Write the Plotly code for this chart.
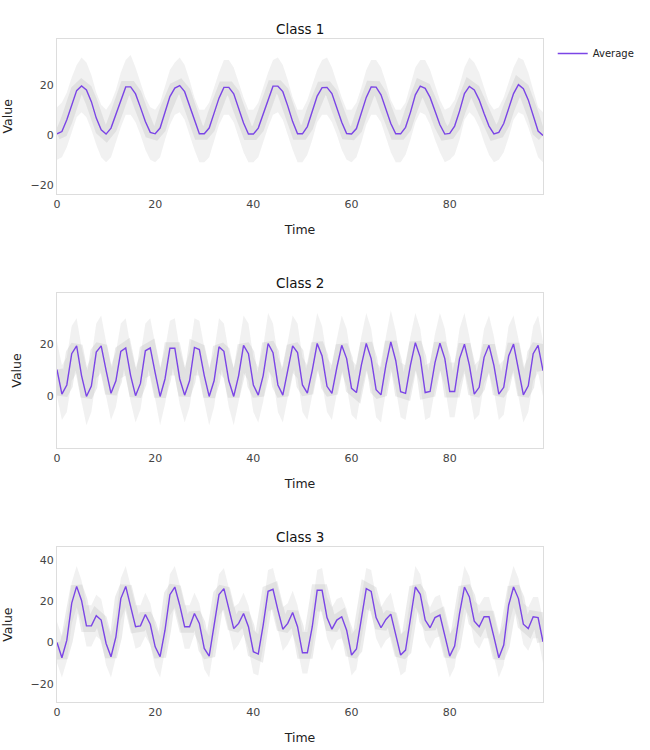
import plotly.graph_objects as go
from plotly.subplots import make_subplots

time = list(range(100))

# class 1: average and rough envelope of the individual samples
c1_avg = [0.4, 1.3, 6, 12, 17.7, 19.6, 18, 13.3, 6.7, 2,
          0.3, 2.7, 8, 14, 19.2, 19.2, 16.4, 11, 5.3, 1,
          0.4, 2.7, 9.3, 15.3, 18.7, 19.7, 17.3, 11.6, 5.3, 0.4,
          0.4, 2.7, 8.7, 14.7, 19, 19, 16.4, 10.7, 4.7, 0.3,
          0.3, 2.7, 8.4, 14.4, 19.5, 19.5, 17.3, 11.6, 5.3, 0.4,
          0.4, 3.3, 9.3, 15.5, 18.9, 19, 16.5, 11, 5, 0.5,
          0.3, 2.5, 8.5, 15, 19.2, 19.1, 16, 10.5, 4.5, 0.4,
          0.4, 3, 9, 16, 19.5, 18.6, 15, 9.5, 4, 0.3,
          0.6, 3.5, 9.5, 16.5, 19.4, 18, 14, 8.5, 3.5, 0.4,
          1, 4.5, 10.5, 16.5, 20.1, 18.5, 14, 8, 1.5, -0.3]
c1_hi = [11, 13, 17, 23, 28, 31, 29, 24, 17, 12,
         10, 13, 18, 25, 30, 32, 27, 21, 15, 11,
         10, 13, 20, 26, 29, 31, 28, 22, 15, 10,
         10, 13, 19, 25, 30, 30, 27, 21, 15, 10,
         10, 13, 19, 25, 30, 31, 28, 22, 15, 10,
         10, 14, 20, 26, 30, 31, 27, 21, 15, 10,
         10, 13, 19, 26, 30, 30, 27, 21, 14, 10,
         10, 13, 20, 27, 30, 30, 26, 20, 14, 10,
         11, 14, 20, 27, 31, 29, 25, 19, 13, 10,
         11, 15, 21, 27, 31, 30, 25, 18, 11, 9]
c1_lo = [-10, -9, -5, 1, 7, 9, 7, 2, -4, -9,
         -11, -9, -3, 3, 8, 8, 5, 0, -6, -10,
         -11, -9, -2, 4, 8, 9, 6, 0, -6, -11,
         -11, -9, -2, 4, 8, 8, 5, -1, -7, -11,
         -11, -9, -3, 3, 8, 9, 6, 0, -6, -11,
         -11, -8, -2, 5, 8, 8, 5, 0, -6, -10,
         -11, -9, -3, 4, 8, 8, 5, -1, -7, -11,
         -11, -8, -2, 5, 9, 8, 4, -2, -7, -11,
         -10, -8, -2, 6, 9, 7, 3, -3, -8, -11,
         -10, -7, -1, 6, 9, 8, 3, -3, -9, -11]

# class 2
c2_avg = [10.3, 0.9, 4.4, 16.4, 19.4, 8, 0, 4, 17, 19.4,
          10, 1.2, 6, 17.3, 18.6, 8, 0.3, 5, 17.5, 18.6,
          9, 0, 6.7, 18.5, 18.5, 6.7, 0.5, 6, 18.8, 18,
          8, 0, 6, 19, 17.3, 6, 0, 8, 19.6, 16.4,
          4.4, 0.5, 8, 20.3, 16.8, 4.4, 0.5, 10, 19.4, 16.8,
          4.4, 1.3, 10, 20.3, 15.5, 3.9, 1.2, 11, 19.6, 14.5,
          3.1, 1.5, 12, 20.3, 14.5, 2.6, 0.6, 12, 20.9, 13.8,
          1.8, 1.2, 12, 20.6, 15, 1.5, 1.9, 13, 20.4, 14.5,
          1.9, 1.9, 14.5, 20, 12, 0.9, 3.5, 15, 19.6, 11.9,
          0.9, 3.5, 15.5, 20.1, 10.6, 0.6, 4.1, 16.4, 19.6, 9.9]
c2_hi = [21, 12, 15, 27, 30, 19, 11, 15, 28, 31,
         21, 12, 17, 28, 30, 19, 11, 16, 28, 30,
         20, 11, 18, 29, 30, 18, 11, 17, 30, 29,
         19, 11, 17, 30, 28, 17, 11, 19, 31, 28,
         15, 11, 19, 32, 28, 15, 11, 21, 31, 28,
         15, 12, 21, 32, 27, 15, 12, 22, 31, 26,
         14, 12, 23, 32, 26, 13, 11, 23, 33, 25,
         13, 12, 23, 32, 26, 12, 13, 24, 32, 26,
         13, 13, 26, 32, 23, 12, 14, 26, 31, 23,
         12, 14, 27, 31, 22, 11, 15, 27, 31, 21]
c2_lo = [0, -9, -6, 6, 9, -2, -11, -6, 7, 9,
         0, -9, -4, 7, 8, -2, -10, -5, 7, 8,
         -1, -11, -3, 8, 8, -3, -10, -4, 8, 8,
         -2, -11, -4, 9, 7, -4, -11, -2, 9, 6,
         -6, -10, -2, 10, 7, -6, -10, 0, 9, 7,
         -6, -9, 0, 10, 5, -6, -9, 1, 9, 4,
         -7, -9, 2, 10, 4, -8, -10, 2, 11, 3,
         -8, -9, 2, 10, 5, -9, -8, 3, 10, 4,
         -8, -8, 4, 10, 2, -9, -7, 5, 9, 2,
         -9, -7, 5, 10, 0, -10, -6, 6, 9, 0]

# class 3
c3_avg = [0, -7.4, 1.1, 19, 27.1, 20.3, 8, 8, 12.9, 10.8,
          -0.5, -6.9, 2.7, 21.2, 27.1, 17.2, 7.6, 8, 13.5, 8.8,
          -2.1, -6.9, 5.9, 23.1, 26.8, 18, 7.6, 7.6, 14, 9.2,
          -2.9, -6.6, 7.6, 23.1, 26, 15.6, 6.7, 9.2, 14, 7.6,
          -4.5, -5.6, 8.4, 24.7, 25.7, 15.6, 6.4, 9.2, 14.5, 7.6,
          -5, -5, 7.6, 25.2, 25.2, 12, 6.4, 10.8, 12.4, 5.9,
          -6.1, -3.2, 11.6, 26, 24.7, 12, 7.1, 11.1, 13.7, 3.5,
          -6.1, -3.7, 11.6, 26.8, 23.3, 10.8, 7.1, 12, 13.2, 3.5,
          -6.6, -1.8, 14, 26.8, 22, 10.3, 7.6, 12.4, 12.4, 2.7,
          -7.4, -1.3, 18, 26.8, 21.2, 8.8, 6.7, 12.4, 12, 0.3]
c3_hi = [10, 3, 11, 29, 37, 30, 18, 18, 23, 21,
         10, 3, 13, 31, 37, 27, 18, 18, 24, 19,
         8, 3, 16, 33, 37, 28, 18, 18, 24, 19,
         7, 3, 18, 33, 36, 26, 17, 19, 24, 18,
         6, 4, 18, 35, 36, 26, 17, 19, 25, 18,
         5, 5, 18, 35, 36, 22, 17, 21, 22, 16,
         4, 7, 22, 36, 35, 22, 17, 21, 24, 14,
         4, 6, 22, 37, 33, 21, 17, 22, 23, 14,
         4, 8, 24, 37, 32, 20, 18, 22, 22, 13,
         3, 9, 28, 37, 31, 19, 17, 22, 22, 11]
c3_lo = [-10, -17, -9, 9, 17, 10, -2, -2, 3, 1,
         -11, -17, -7, 11, 17, 7, -3, -2, 3, -1,
         -12, -17, -4, 13, 17, 8, -3, -3, 4, -1,
         -13, -17, -3, 13, 16, 6, -4, -1, 4, -3,
         -15, -16, -2, 15, 16, 6, -4, -1, 4, -3,
         -15, -15, -3, 15, 15, 2, -4, 1, 2, -4,
         -16, -13, 2, 16, 15, 2, -3, 1, 3, -7,
         -16, -14, 1, 17, 13, 1, -3, 2, 3, -7,
         -17, -12, 4, 17, 12, 0, -3, 2, 2, -7,
         -17, -11, 8, 17, 11, -1, -4, 2, 2, -10]

classes = ["Class 1", "Class 2", "Class 3"]
series = [(c1_avg, c1_hi, c1_lo), (c2_avg, c2_hi, c2_lo), (c3_avg, c3_hi, c3_lo)]
y_ranges = [[-23.6, 38.4], [-19.7, 39.6], [-28.8, 46]]

AVG_COLOR = "#7B45E6"
BAND_FILL = "rgba(205,205,205,0.28)"
CORE = "rgba(175,175,175,0.24)"
FONT = "DejaVu Sans, Verdana, sans-serif"

fig = make_subplots(rows=3, cols=1, subplot_titles=classes, vertical_spacing=0.15)

for i, (avg, hi, lo) in enumerate(series, start=1):
    fig.add_trace(go.Scatter(x=time, y=lo, mode="lines", line=dict(width=0),
                             showlegend=False, hoverinfo="skip"), row=i, col=1)
    fig.add_trace(go.Scatter(x=time, y=hi, mode="lines", line=dict(width=0),
                             fill="tonexty", fillcolor=BAND_FILL,
                             showlegend=False, hoverinfo="skip"), row=i, col=1)
    # denser grey core around the mean, like the overlapping sample lines
    fig.add_trace(go.Scatter(x=time, y=avg, mode="lines", line=dict(color=CORE, width=12),
                             showlegend=False, hoverinfo="skip"), row=i, col=1)
    fig.add_trace(go.Scatter(x=time, y=avg, mode="lines", name="Average",
                             line=dict(color=AVG_COLOR, width=1.4),
                             showlegend=(i == 1)), row=i, col=1)
    fig.update_xaxes(title_text="Time", range=[0, 99], row=i, col=1)
    fig.update_yaxes(title_text="Value", range=y_ranges[i - 1], row=i, col=1)

fig.update_xaxes(showgrid=False, zeroline=False, showline=True, mirror=True,
                 linecolor="#dddddd", ticks="", tickfont=dict(size=11, color="#444"),
                 title_font=dict(size=12.5, color="#222"), dtick=20)
fig.update_yaxes(showgrid=False, zeroline=False, showline=True, mirror=True,
                 linecolor="#dddddd", ticks="", tickfont=dict(size=11, color="#444"),
                 title_font=dict(size=12.5, color="#222"), dtick=20, automargin=False)
fig.update_annotations(font=dict(size=13.5, color="#111", family=FONT))

fig.update_layout(
    width=650,
    height=750,
    template="plotly_white",
    font=dict(family=FONT),
    plot_bgcolor="#FFFFFF",
    paper_bgcolor="#FFFFFF",
    margin=dict(l=57, r=107, t=39, b=48, autoexpand=False),
    legend=dict(x=1.02, y=1, font=dict(size=10, color="#222")),
)

fig.write_html("out.html", config={"displayModeBar": False},
               post_script="document.body.style.margin='0';")
